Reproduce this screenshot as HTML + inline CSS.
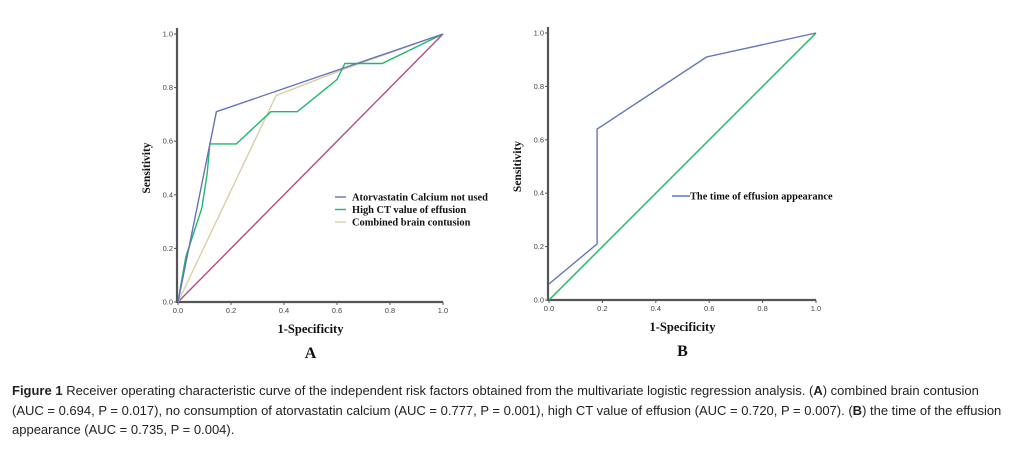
<!DOCTYPE html>
<html><head><meta charset="utf-8"><style>
body{margin:0;width:1012px;height:449px;background:#fff;overflow:hidden;position:relative}
svg{position:absolute;left:0;top:0}
.cap{position:absolute;left:12px;top:381px;width:1000px;font-family:"Liberation Sans",sans-serif;font-size:13px;line-height:19.5px;color:#222;white-space:nowrap}
</style></head><body>
<svg id="chart" width="1012" height="375" viewBox="0 0 1012 375"></svg>
<div class="cap"><b>Figure 1</b> Receiver operating characteristic curve of the independent risk factors obtained from the multivariate logistic regression analysis. (<b>A</b>) combined brain contusion<br>(AUC = 0.694, P = 0.017), no consumption of atorvastatin calcium (AUC = 0.777, P = 0.001), high CT value of effusion (AUC = 0.720, P = 0.007). (<b>B</b>) the time of the effusion<br>appearance (AUC = 0.735, P = 0.004).</div>
<script>
const ticks=[0,0.2,0.4,0.6,0.8,1.0];
const tickLabels=["0.0","0.2","0.4","0.6","0.8","1.0"];
const aBlueX=[0,0.145,1], aBlueY=[0,0.71,1];
const aGreenX=[0,0.01,0.03,0.04,0.09,0.11,0.12,0.22,0.35,0.45,0.6,0.63,0.77,1];
const aGreenY=[0,0.06,0.17,0.2,0.35,0.48,0.59,0.59,0.71,0.71,0.83,0.89,0.89,1];
const aTanX=[0,0.37,0.63,1], aTanY=[0,0.77,0.87,1];
const refX=[0,1], refY=[0,1];
const bBlueX=[0,0.06,0.18,0.18,0.59,1], bBlueY=[0.06,0.11,0.21,0.64,0.91,1];
const svg=document.getElementById('chart');
const NS='http://www.w3.org/2000/svg';
function mk(t,a,txt){const e=document.createElementNS(NS,t);for(const k in a)e.setAttribute(k,a[k]);if(txt!=null)e.textContent=txt;svg.appendChild(e);return e;}
function panel(p,x0,x1,y0,y1,series,letter){
  const sx=v=>x0+v*(x1-x0), sy=v=>y0-v*(y0-y1);
  let e=mk('line',{x1:x0-1,y1:y1-6,x2:x0-1,y2:y0+1,stroke:'#555','stroke-width':2.2});
  
  e=mk('line',{x1:x0-1,y1:y0,x2:x1,y2:y0,stroke:'#555','stroke-width':2.2});
  
  ticks.forEach((t,i)=>{
    mk('line',{x1:x0-4,y1:sy(t),x2:x0,y2:sy(t),stroke:'#555','stroke-width':1});
    e=mk('text',{x:x0-5,y:sy(t)+2.5,'font-size':7.5,'font-family':'Liberation Sans, sans-serif',fill:'#444','text-anchor':'end'},tickLabels[i]);
    
    mk('line',{x1:sx(t),y1:y0,x2:sx(t),y2:y0+3,stroke:'#555','stroke-width':1});
    e=mk('text',{x:sx(t),y:y0+11,'font-size':7.5,'font-family':'Liberation Sans, sans-serif',fill:'#444','text-anchor':'middle'},tickLabels[i]);
    
  });
  series.forEach(s=>{
    const pts=s.x.map((v,i)=>sx(v).toFixed(1)+','+sy(s.y[i]).toFixed(1)).join(' ');
    const l=mk('polyline',{points:pts,fill:'none',stroke:s.c,'stroke-width':1.4});
    
  });
  const cx=(x0+x1)/2;
  e=mk('text',{x:cx,y:y0+31,'font-size':12.5,'font-weight':'bold','font-family':'Liberation Serif, serif','text-anchor':'middle',fill:'#111'},'1-Specificity');
  
  e=mk('text',{x:cx,y:y0+56,'font-size':16,'font-weight':'bold','font-family':'Liberation Serif, serif','text-anchor':'middle',fill:'#111'},letter);
  
  e=mk('text',{x:0,y:0,'font-size':11.5,'font-weight':'bold','font-family':'Liberation Serif, serif','text-anchor':'middle',fill:'#111',transform:`translate(${x0-28},${(y0+y1)/2}) rotate(-90)`},'Sensitivity');
  
}
panel('panel-a',178,443,302,34,[
  {x:refX,y:refY,c:'#b44a8c',n:'reference-line-a'},
  {x:aTanX,y:aTanY,c:'#d9cfa8',n:'combined-brain-contusion-curve'},
  {x:aGreenX,y:aGreenY,c:'#1fb870',n:'high-ct-value-curve'},
  {x:aBlueX,y:aBlueY,c:'#6475b8',n:'atorvastatin-curve'}],'A');
panel('panel-b',549,816,300,33,[
  {x:refX,y:refY,c:'#1fb860',n:'reference-line-b'},
  {x:bBlueX,y:bBlueY,c:'#6475b8',n:'effusion-time-curve'}],'B');
const legA=[['Atorvastatin Calcium not used','#6475b8'],['High CT value of effusion','#1fb870'],['Combined brain contusion','#d9cfa8']];
legA.forEach((d,i)=>{
  const y=197+i*12.5;
  let e=mk('line',{x1:335,y1:y,x2:346,y2:y,stroke:d[1],'stroke-width':1.4});
  
  e=mk('text',{x:352,y:y+3.5,'font-size':10.4,'font-weight':'bold','font-family':'Liberation Serif, serif',fill:'#111'},d[0]);
  
});
let e=mk('line',{x1:672,y1:196,x2:690,y2:196,stroke:'#6475b8','stroke-width':1.6});

e=mk('text',{x:690,y:199.5,'font-size':10.4,'font-weight':'bold','font-family':'Liberation Serif, serif',fill:'#111'},'The time of effusion appearance');

</script>
</body></html>
